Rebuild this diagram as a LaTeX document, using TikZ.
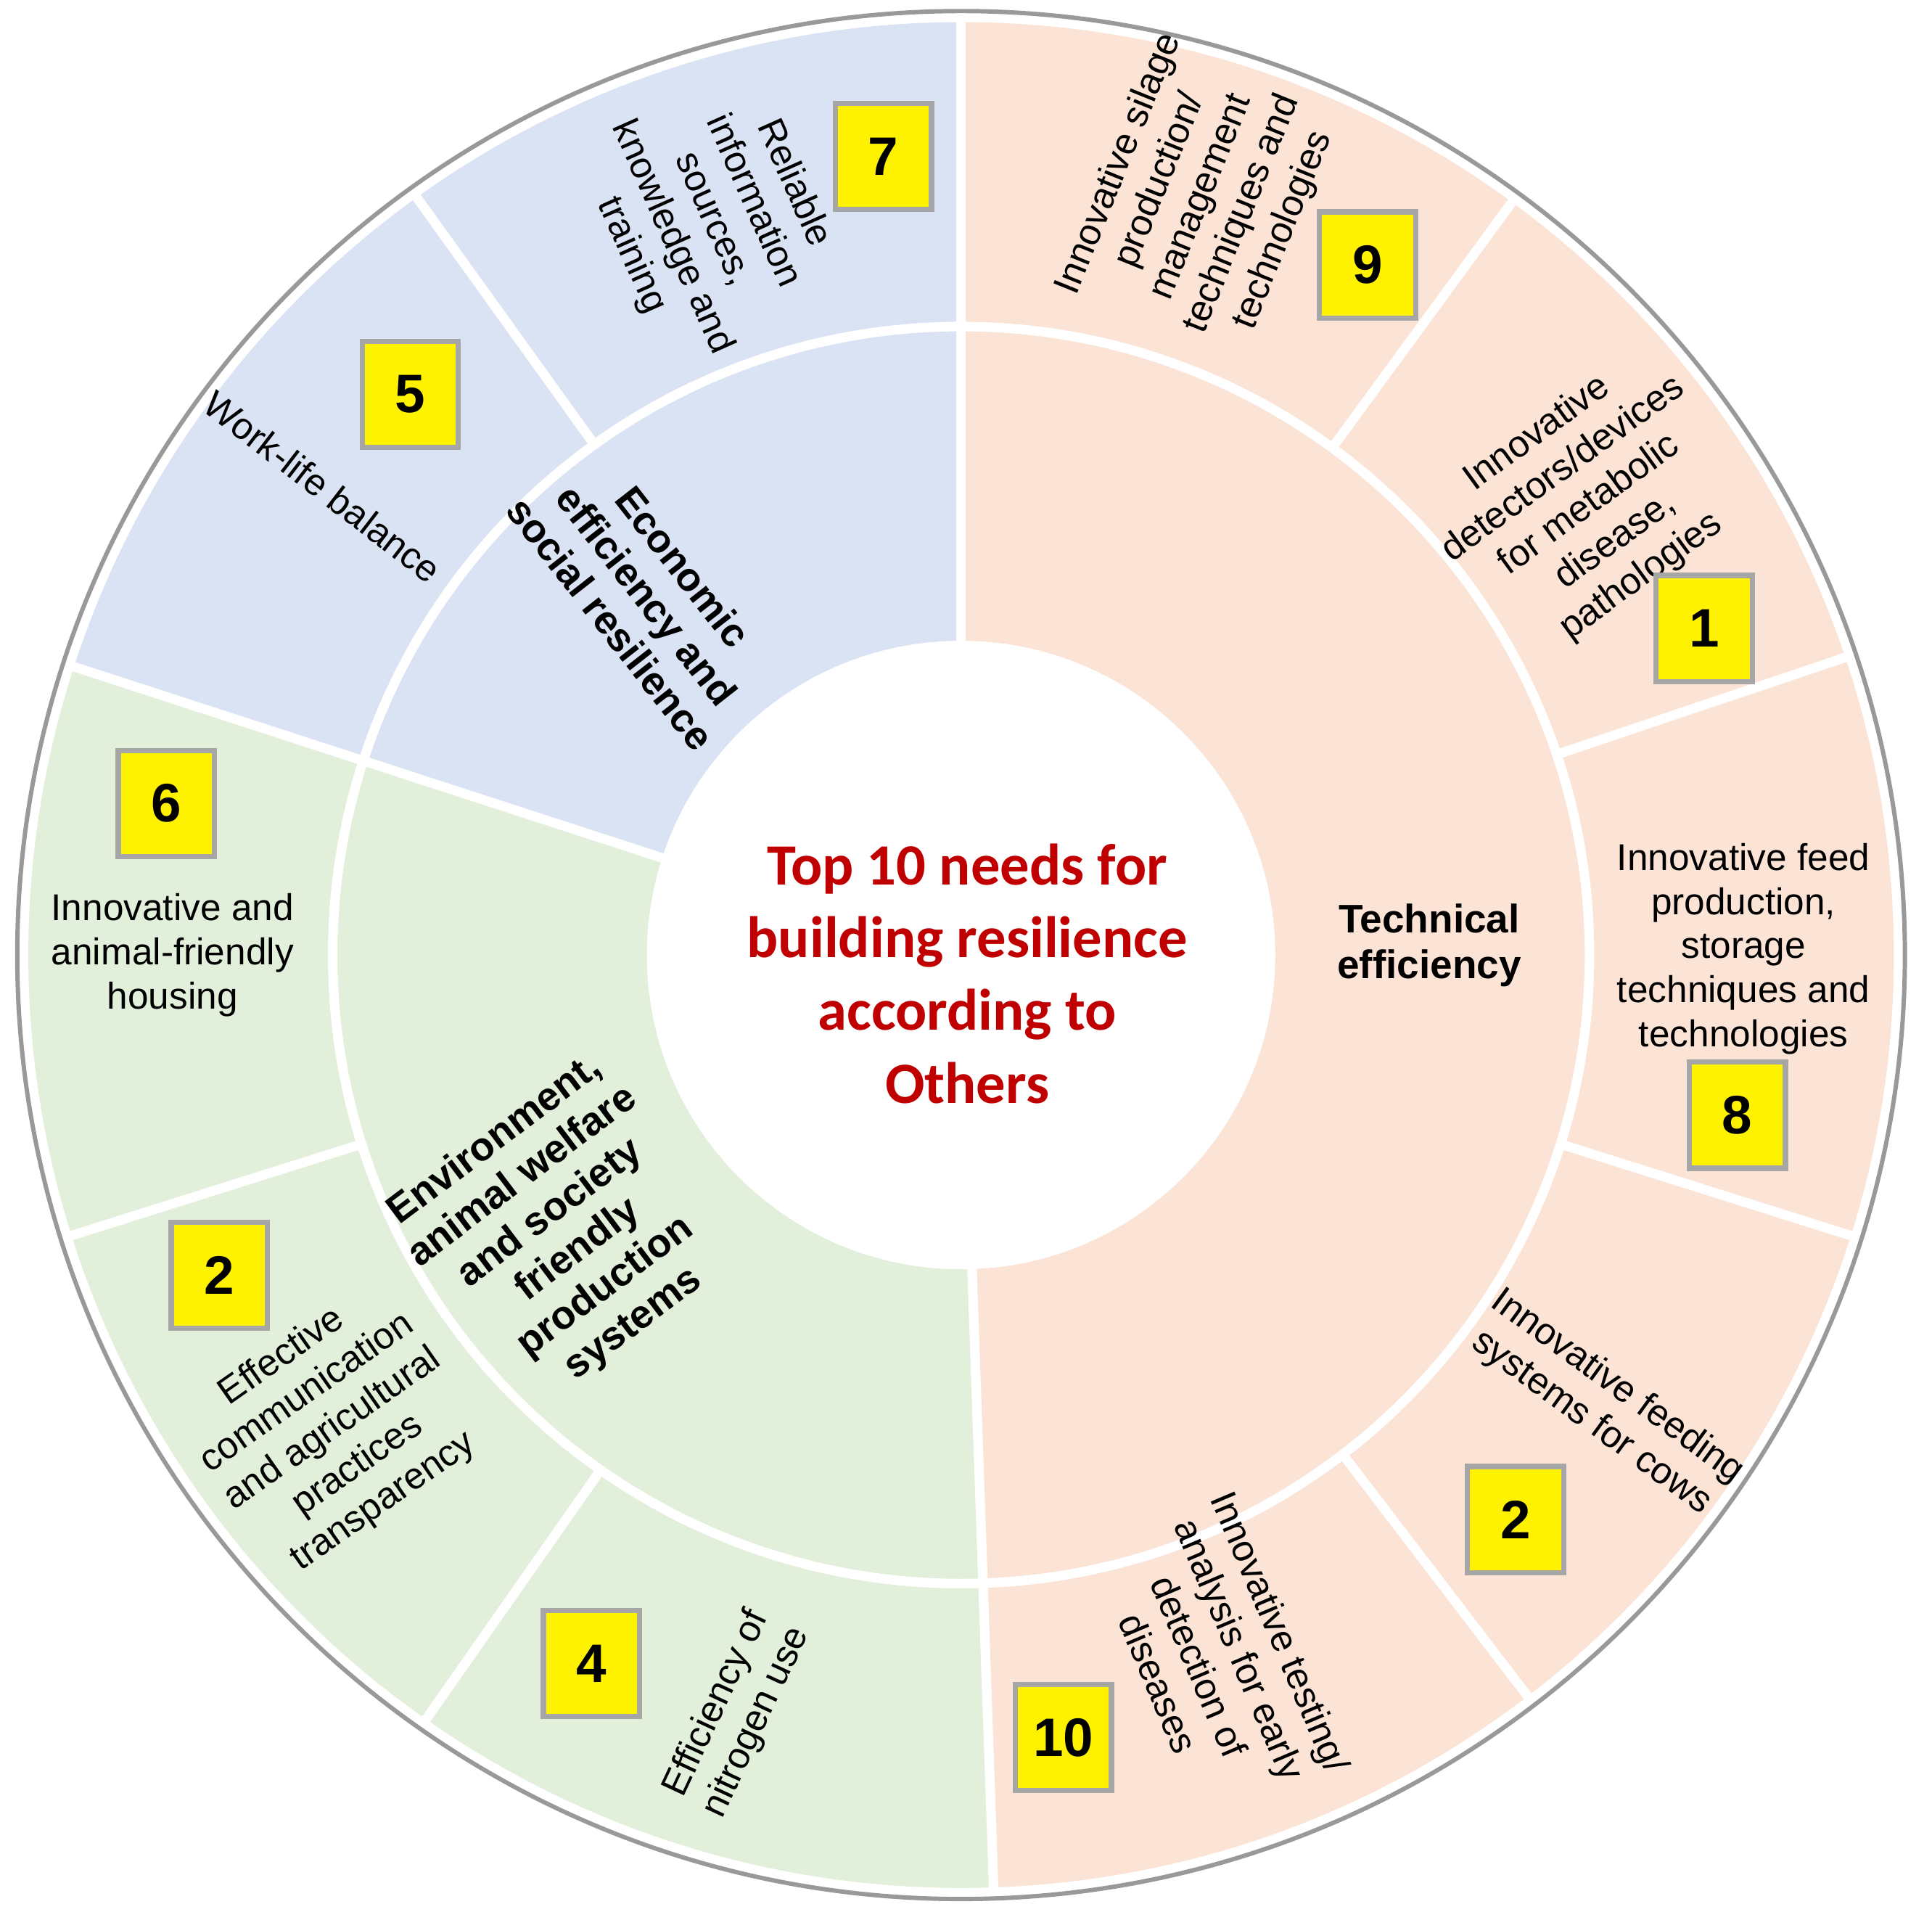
\documentclass[tikz,border=0pt]{standalone}
\usepackage{fontspec}
\setmainfont{Liberation Sans}
\newfontfamily\titlefont{Carlito}
\begin{document}
\begin{tikzpicture}[x=0.01cm,y=0.01cm,
  lbl/.style={align=center,font=\fontsize{8.6}{10.2}\selectfont,inner sep=0},
  cat/.style={align=center,font=\fontsize{9.2}{10.6}\selectfont\bfseries,inner sep=0},
  num/.style={draw=black!35,line width=1.2pt,fill=yellow,minimum width=0.78cm,minimum height=0.86cm,inner sep=0,font=\fontsize{12.5}{14}\selectfont\bfseries},
  sep/.style={white,line width=2.2pt}]
\useasboundingbox (0,0) rectangle (1568,1558);
\coordinate (C) at (780,783);
\fill[fill={rgb,255:red,218;green,227;blue,243}] (C) -- ++(90:757) arc (90:162:757) -- cycle;
\fill[fill={rgb,255:red,226;green,239;blue,218}] (C) -- ++(162:757) arc (162:272:757) -- cycle;
\fill[fill={rgb,255:red,251;green,227;blue,214}] (C) -- ++(-88:757) arc (-88:90:757) -- cycle;
\draw[black!40,line width=1pt] (C) circle (766);
\draw[sep] (C) circle (510);
\fill[white] (C) circle (255);
\foreach \a in {90,162,272} \draw[sep] (C) ++(\a:255) -- ++(\a:505);
\foreach \a in {125.7,197.5,235,53.8,18.6,-17.5,-52.6} \draw[sep] (C) ++(\a:510) -- ++(\a:250);
\node[align=center,text={rgb,255:red,192;green,0;blue,0},font=\fontsize{13.5}{16.8}\titlefont\bfseries] (title) at (785,768) {Top 10 needs for\\building resilience\\according to\\Others};
\node[cat] (tech) at (1160,791) {Technical\\efficiency};
\node[cat,rotate=-52] (eco) at (525,1075) {Economic\\efficiency and\\social resilience};
\node[cat,rotate=37] (env) at (458,558) {Environment,\\animal welfare\\and society\\friendly\\production\\systems};
\node[lbl,rotate=-66] (t7) at (578,1380) {Reliable\\information\\sources,\\knowledge and\\training};
\node[num] (n7) at (717,1431) {7};
\node[lbl,rotate=-37.6] (t5) at (262,1163) {Work-life balance};
\node[num] (n5) at (333,1238) {5};
\node[lbl] (t6) at (140,783) {Innovative and\\animal-friendly\\housing};
\node[num] (n6) at (135,906) {6};
\node[lbl,rotate=35] (t2a) at (270,398) {Effective\\communication\\and agricultural\\practices\\transparency};
\node[num] (n2a) at (178,523) {2};
\node[lbl,rotate=65] (t4) at (598,168) {Efficiency of\\nitrogen use};
\node[num] (n4) at (480,208) {4};
\node[lbl,rotate=-67] (t10) at (990,213) {Innovative testing/\\analysis for early\\detection of\\diseases};
\node[num] (n10) at (863,148) {10};
\node[lbl,rotate=-36] (t2b) at (1302,418) {Innovative feeding\\systems for cows};
\node[num] (n2b) at (1230,325) {2};
\node[lbl] (t8) at (1415,788) {Innovative feed\\production,\\storage\\techniques and\\technologies};
\node[num] (n8) at (1410,653) {8};
\node[lbl,rotate=36] (t1) at (1290,1148) {Innovative\\detectors/devices\\for metabolic\\disease,\\pathologies};
\node[num] (n1) at (1383,1048) {1};
\node[lbl,rotate=68] (t9) at (975,1398) {Innovative silage\\production/\\management\\techniques and\\technologies};
\node[num] (n9) at (1110,1343) {9};
\end{tikzpicture}
\end{document}
